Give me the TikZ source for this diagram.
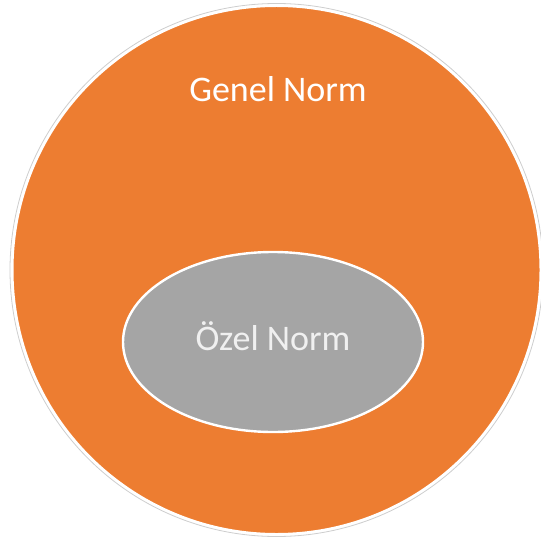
\documentclass[tikz,border=0pt]{standalone}
\usepackage{fontspec}
\setmainfont{Carlito}
\usepackage{xcolor}
\usepackage{tikz}
\usetikzlibrary{positioning}

\definecolor{normorange}{RGB}{237,125,49}
\definecolor{normgray}{RGB}{165,165,165}
\definecolor{normshadow}{RGB}{205,205,205}

\begin{document}
\begin{tikzpicture}[x=0.75pt,y=0.75pt,yscale=-1,xscale=1]
  \useasboundingbox (0,0) rectangle (541,538);

  %Shape: Circle (shadow ring)
  \draw [color=normshadow, line width=0.6] (276.5,270) circle [radius=266.5];
  %Shape: Circle
  \draw [color=white, line width=1.5, fill=normorange] (276.5,270) circle [radius=264];
  %Shape: Ellipse
  \draw [color=white, line width=1.8, fill=normgray] (273,342) ellipse [x radius=150, y radius=90];

  % Text Node
  \node (genel) [anchor=base, inner sep=0.75pt, text=white, font=\fontsize{27}{32}\selectfont] at (278,101.5) {Genel Norm};
  % Text Node
  \node (ozel) [anchor=base, inner sep=0.75pt, text=white!94!black, font=\fontsize{27}{32}\selectfont] at (273,350) {Özel Norm};
\end{tikzpicture}
\end{document}
